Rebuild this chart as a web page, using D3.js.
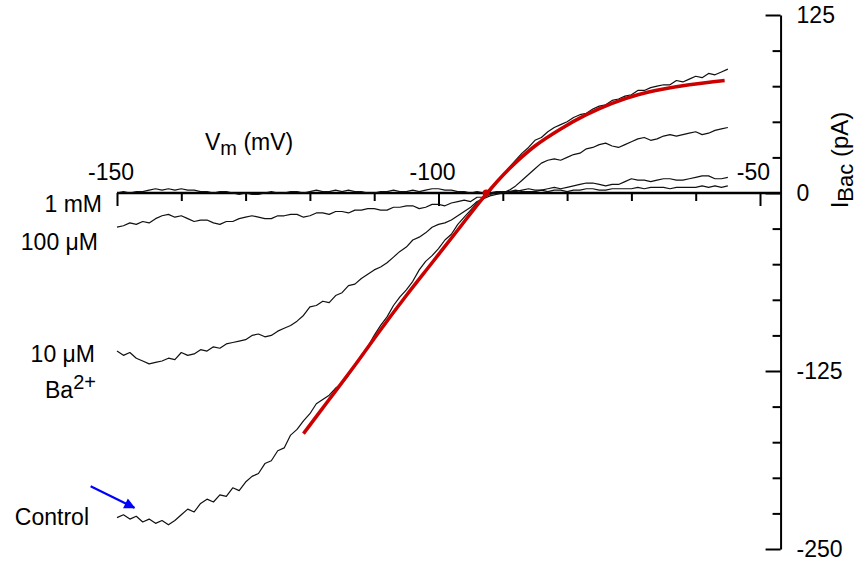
<!DOCTYPE html>
<html><head><meta charset="utf-8">
<script src="https://cdn.jsdelivr.net/npm/d3@7"></script>
<style>
body{margin:0;background:#fff}
text{font-family:"Liberation Sans",Arial,Helvetica,sans-serif;fill:#000}
</style>
</head><body>
<svg id="c" width="857" height="566"></svg>
<script>
// ---- data ----
const voltages = [
 -150,-149,-148,-147,-146,-145,-144,-143,-142,-141,
 -140,-139,-138,-137,-136,-135,-134,-133,-132,-131,
 -130,-129,-128,-127,-126,-125,-124,-123,-122,-121,
 -120,-119,-118,-117,-116,-115,-114,-113,-112,-111,
 -110,-109,-108,-107,-106,-105,-104,-103,-102,-101,
 -100,-99,-98,-97,-96,-95,-94,-93,-92,-91,
 -90,-89,-88,-87,-86,-85,-84,-83,-82,-81,
 -80,-79,-78,-77,-76,-75,-74,-73,-72,-71,
 -70,-69,-68,-67,-66,-65,-64,-63,-62,-61,
 -60,-59,-58,-57,-56,-55];
const control = [
 -228,-226,-229,-227,-231,-229,-232,-230,-233,-230,
 -226,-222,-224,-218,-215,-217,-212,-213,-207,-209,
 -203,-199,-197,-190,-188,-181,-179,-170,-166,-160,
 -155,-148,-145,-142,-137,-134,-128,-121,-114,-108,
 -100,-93,-87,-79,-73,-68,-62,-54,-48,-44,
 -39,-33,-29,-22,-17,-12,-7,-3,1,7,
 12,18,23,28,32,37,39,43,46,48,
 50,53,55,56,59,61,62,65,66,68,
 69,72,72,74,75,76,76,79,78,80,
 82,81,84,83,85,87];
const ba10uM = [
 -111,-114,-112,-116,-118,-120,-119,-118,-116,-117,
 -112,-114,-113,-110,-111,-108,-109,-106,-105,-104,
 -103,-100,-99,-101,-100,-97,-95,-93,-90,-86,
 -80,-79,-76,-77,-72,-70,-65,-64,-60,-57,
 -54,-52,-49,-45,-41,-38,-33,-31,-28,-24,
 -22,-21,-19,-16,-13,-10,-6,-4,-2,-1,
 0,2,5,9,13,17,21,23,24,23,
 25,27,28,31,32,34,35,33,32,34,
 36,38,39,37,38,40,41,40,41,42,
 43,41,42,44,45,46];
const ba100uM = [
 -24,-23,-21,-22,-20,-21,-18,-16,-15,-17,
 -16,-18,-20,-19,-19,-21,-22,-20,-20,-18,
 -17,-16,-17,-18,-18,-16,-16,-15,-15,-17,
 -16,-14,-14,-15,-13,-13,-14,-12,-12,-11,
 -11,-12,-12,-10,-10,-9,-9,-11,-10,-8,
 -8,-9,-7,-6,-5,-6,-3,-3,-1,0,
 0,1,1,2,3,2,2,3,4,3,
 4,5,6,7,7,6,5,6,6,8,
 10,9,9,8,9,10,10,9,9,10,
 11,12,12,10,10,11];
const ba1mM = [
 0,1,0,1,1,2,3,2,3,2,
 3,2,2,1,1,0,1,1,0,-1,
 0,-1,-1,0,1,0,0,1,1,0,
 1,2,1,1,2,1,2,1,1,0,
 0,1,1,2,1,1,2,1,2,3,
 3,2,2,1,1,0,1,0,0,1,
 1,1,2,1,1,1,2,1,2,2,
 1,2,2,3,3,2,2,3,3,3,
 3,4,3,4,4,4,3,4,4,4,
 4,5,4,5,4,5];
const fitV = [-121,-117,-113,-109,-105,-101,-97,-93,-89,-85,-81,-77,-73,-69,-65,-61,-55.5];
const fitI = [-169,-145,-121,-96,-72,-49,-26,-3,17,33,45,55,63,69,73,76,79];
const reversal = [-92.6, 0];
const xTicks = [-150,-140,-130,-120,-110,-100,-90,-80,-70,-60,-50];
const xTickLabels = [-150,-100,-50];
const yTicks = [125,100,75,50,25,0,-25,-50,-75,-100,-125,-150,-175,-200,-225,-250];
const yTickLabels = [125,0,-125,-250];
const arrowFrom = [-154.1,-206];
const arrowTo = [-147.3,-221];

// ---- drawing ----
const svg = d3.select("#c");
const x = d3.scaleLinear().domain([-150,-50]).range([117,760]);
const y = d3.scaleLinear().domain([-250,125]).range([549,15]);
const xRight = x(-46.8);
const FS = 23;

// x axis (drawn along I = 0)
const gx = svg.append("g").attr("transform",`translate(0,${y(0)})`);
gx.call(d3.axisBottom(x).tickValues(xTicks).tickFormat("").tickSize(8).tickSizeOuter(0));
gx.select(".domain").remove();
gx.selectAll(".tick line").attr("stroke","#000").attr("stroke-width",2)
  .attr("y2", d => (d % 50 === 0) ? 13 : 8);
gx.append("line").attr("x1",x(-150)).attr("x2",xRight).attr("y1",0).attr("y2",0)
  .attr("stroke","#000").attr("stroke-width",2.5);
gx.selectAll(".xl").data(xTickLabels).enter().append("text")
  .attr("x", d => d === -50 ? x(d) + 10 : x(d) - 6)
  .attr("y", -13)
  .attr("text-anchor", d => d === -50 ? "end" : "middle")
  .attr("font-size", FS).text(d => d);

// x axis title
const xt = svg.append("text").attr("x",205).attr("y",150).attr("font-size",FS)
  .attr("text-anchor","start");
xt.append("tspan").text("V");
xt.append("tspan").attr("font-size",20).attr("dy",5).text("m");
xt.append("tspan").attr("dy",-5).text(" (mV)");

// right y axis
const gy = svg.append("g").attr("transform",`translate(${xRight},0)`);
gy.call(d3.axisLeft(y).tickValues(yTicks).tickFormat("").tickSize(8).tickSizeOuter(0));
gy.select(".domain").attr("stroke","#000").attr("stroke-width",2);
gy.selectAll(".tick line").attr("stroke","#000").attr("stroke-width",2)
  .attr("x2", d => (d % 125 === 0) ? -15 : -8);
gy.selectAll(".yl").data(yTickLabels).enter().append("text")
  .attr("x", 16)
  .attr("y", d => y(d) + 8)
  .attr("text-anchor","start")
  .attr("font-size", FS).text(d => d);

// y axis title
const yt = svg.append("text").attr("transform",`translate(848,160) rotate(-90)`)
  .attr("text-anchor","middle").attr("font-size",24);
yt.append("tspan").text("I");
yt.append("tspan").attr("font-size",22).attr("dy",5).text("Bac");
yt.append("tspan").attr("dy",-5).text(" (pA)");

// traces
const line = d3.line().x((d,i) => x(voltages[i])).y(d => y(d));
[ba1mM, ba100uM, ba10uM, control].forEach(s => {
  svg.append("path").datum(s).attr("d", line)
    .attr("fill","none").attr("stroke","#111").attr("stroke-width",1.2)
    .attr("stroke-linejoin","round");
});

// fit
const fitLine = d3.line().x((d,i) => x(fitV[i])).y(d => y(d)).curve(d3.curveCatmullRom);
svg.append("path").datum(fitI).attr("d", fitLine)
  .attr("fill","none").attr("stroke","#cc0000").attr("stroke-width",3.5)
  .attr("stroke-linecap","butt");
svg.append("circle").attr("cx",x(reversal[0])).attr("cy",y(reversal[1])).attr("r",3.5)
  .attr("fill","#cc0000");

// trace labels
const labels = [
  {t:"1 mM", xe:102, yb:212},
  {t:"100 μM", xe:98, yb:250},
  {t:"10 μM", xe:95, yb:362},
  {t:"Control", xe:89, yb:525}
];
svg.selectAll(".tl").data(labels).enter().append("text")
  .attr("x",d=>d.xe).attr("y",d=>d.yb).attr("text-anchor","end")
  .attr("font-size",FS).text(d=>d.t);
const ba = svg.append("text").attr("x",45).attr("y",398).attr("font-size",FS);
ba.append("tspan").text("Ba");
ba.append("tspan").attr("font-size",20).attr("dy",-9).text("2+");

// blue arrow
const defs = svg.append("defs");
defs.append("marker").attr("id","ah").attr("viewBox","0 0 10 10")
  .attr("refX",9).attr("refY",5).attr("markerWidth",6).attr("markerHeight",5)
  .attr("orient","auto").attr("markerUnits","strokeWidth")
  .append("path").attr("d","M0,0 L10,5 L0,10 z").attr("fill","#0000ff");
svg.append("line")
  .attr("x1",x(arrowFrom[0])).attr("y1",y(arrowFrom[1]))
  .attr("x2",x(arrowTo[0])).attr("y2",y(arrowTo[1]))
  .attr("stroke","#0000ff").attr("stroke-width",2.2).attr("marker-end","url(#ah)");
</script>
</body></html>
